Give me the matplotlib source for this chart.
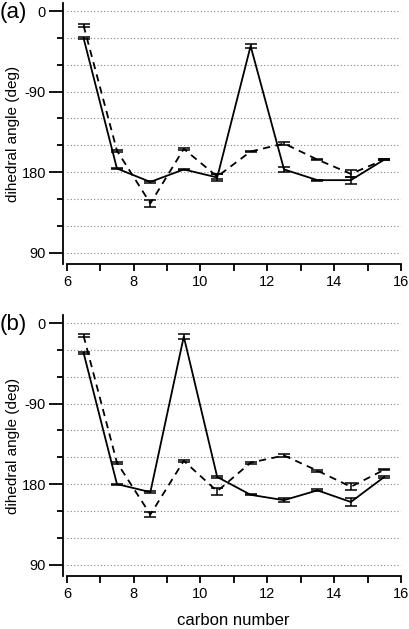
import numpy as np
import matplotlib
matplotlib.use("Agg")
import matplotlib.pyplot as plt
from matplotlib.ticker import FixedLocator, MultipleLocator

plt.rcParams["font.family"] = ["Liberation Sans", "DejaVu Sans"]

# carbon positions (bond between carbons)
carbon = [6.5, 7.5, 8.5, 9.5, 10.5, 11.5, 12.5, 13.5, 14.5, 15.5]

# angles unwrapped: 0 -> -90 -> -180 (=180) -> -270 (=90)
solid_a = [-30, -176, -191, -177, -186, -39, -177, -189, -189, -166]
solid_a_err = [1, 1, 1, 1, 4, 2, 3, 0.5, 4, 1]
dashed_a = [-16, -156, -215, -154, -185, -157, -148, -166, -182, -166]
dashed_a_err = [2, 1, 4, 1, 3, 1, 2, 1, 4, 1]

solid_b = [-33, -180, -189, -15, -172, -192, -198, -187, -200, -172]
solid_b_err = [1, 0.5, 1, 3, 1, 0.5, 2, 1, 4, 1]
dashed_b = [-14, -156, -214, -154, -188, -156, -148, -165, -183, -164]
dashed_b_err = [1.5, 1, 3, 1, 4, 1, 1.5, 1, 4, 0.5]

ytick_pos = [0, -90, -180, -270]
ytick_lab = ["0", "-90", "180", "90"]

fig = plt.figure(figsize=(4.1, 6.29), dpi=100)

panels = [
    ("(a)", [0.163, 0.580, 0.815, 0.415], solid_a, solid_a_err, dashed_a, dashed_a_err),
    ("(b)", [0.163, 0.084, 0.815, 0.415], solid_b, solid_b_err, dashed_b, dashed_b_err),
]

for label, rect, s, se, d, de in panels:
    ax = fig.add_axes(rect)
    for v in np.arange(0, -271, -30):
        ax.axhline(v, color="#888888", lw=0.8, ls=(0, (1, 2)), zorder=0)
    ax.errorbar(carbon, s, yerr=se, color="black", lw=1.3, capsize=4,
                capthick=1.1, elinewidth=1.1)
    ax.errorbar(carbon, d, yerr=de, color="black", lw=1.3, ls=(0, (4, 3)),
                capsize=4, capthick=1.1, elinewidth=1.1)
    ax.set_xlim(6, 16)
    ax.set_ylim(-283, 9)
    ax.spines["top"].set_visible(False)
    ax.spines["right"].set_visible(False)
    ax.spines["left"].set_position(("outward", 3))
    ax.spines["left"].set_linewidth(1.3)
    ax.spines["bottom"].set_linewidth(1.3)
    ax.yaxis.set_major_locator(FixedLocator(ytick_pos))
    ax.set_yticklabels(ytick_lab)
    ax.yaxis.set_minor_locator(FixedLocator([-30, -60, -120, -150, -210, -240]))
    ax.xaxis.set_major_locator(MultipleLocator(2))
    ax.xaxis.set_minor_locator(MultipleLocator(1))
    ax.tick_params(axis="y", which="major", length=10, width=1.3, labelsize=10.5, pad=2)
    ax.tick_params(axis="y", which="minor", length=4, width=1.3)
    ax.tick_params(axis="x", which="major", length=5, width=1.3, labelsize=10.5, pad=3)
    ax.tick_params(axis="x", which="minor", length=5, width=1.3)
    ax.set_ylabel("dihedral angle (deg)", fontsize=11, labelpad=1)
    fig.text(0.0, rect[1] + rect[3] + 0.002, label, fontsize=16, va="top", ha="left")

fig.text(0.57, 0.002, "carbon number", fontsize=12, ha="center", va="bottom")

fig.savefig("out.png", dpi=100)
